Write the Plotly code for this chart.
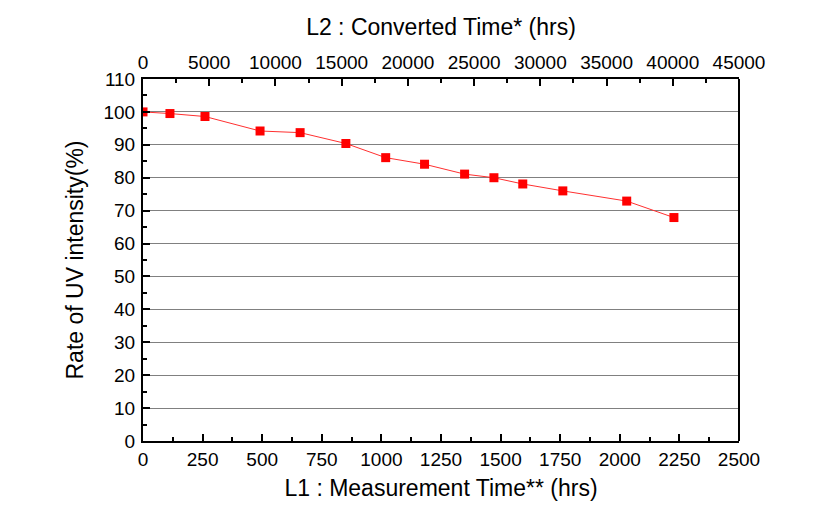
import plotly.graph_objects as go

measurement_time = [0, 113, 260, 491, 659, 851, 1018, 1181, 1349, 1472, 1593, 1761, 2029, 2227]
uv_rate = [100.0, 99.5, 98.6, 94.2, 93.7, 90.4, 86.1, 84.1, 81.1, 80.0, 78.1, 76.0, 72.9, 67.9]

bottom_ticks = [0, 250, 500, 750, 1000, 1250, 1500, 1750, 2000, 2250, 2500]
top_ticks = [0, 5000, 10000, 15000, 20000, 25000, 30000, 35000, 40000, 45000]
top_labels = [str(v) for v in top_ticks]
y_ticks = [0, 10, 20, 30, 40, 50, 60, 70, 80, 90, 100, 110]

FONT = "Liberation Sans, Arial, sans-serif"

fig = go.Figure()
fig.add_trace(go.Scatter(
    x=measurement_time, y=uv_rate, mode="lines+markers",
    line=dict(color="#ff3030", width=1),
    marker=dict(symbol="square", size=9, color="#ff0000"),
    showlegend=False, xaxis="x", yaxis="y",
))
# invisible trace for top axis
fig.add_trace(go.Scatter(
    x=[top_ticks[0], top_ticks[-1]], y=[None, None], mode="markers",
    showlegend=False, xaxis="x2", yaxis="y", hoverinfo="skip",
))

axis_common = dict(
    showline=True, linecolor="black", linewidth=2, mirror=False,
    ticks="inside", ticklen=7, tickwidth=2, tickcolor="black",
    tickfont=dict(family=FONT, size=19, color="black"),
    zeroline=False, automargin=False,
)

fig.update_layout(
    width=831, height=521,
    margin=dict(l=135, r=100, t=71, b=88),
    paper_bgcolor="white", plot_bgcolor="white",
    font=dict(family=FONT, color="black"),
    xaxis=dict(
        range=[0, 2500], tickvals=bottom_ticks, ticktext=[str(v) for v in bottom_ticks], showgrid=False,
        minor=dict(ticks="inside", ticklen=4, tickwidth=2, tickcolor="black", dtick=125, tick0=0),
        title=dict(text="L1 : Measurement Time** (hrs)", font=dict(size=23, family=FONT), standoff=11),
        **axis_common,
    ),
    xaxis2=dict(
        range=[0, 45000], tickvals=top_ticks, ticktext=top_labels, overlaying="x", side="top", showgrid=False,
        minor=dict(ticks="inside", ticklen=4, tickwidth=2, tickcolor="black", dtick=2500, tick0=0),
        title=dict(text="L2 : Converted Time* (hrs)", font=dict(size=23, family=FONT), standoff=10),
        **axis_common,
    ),
    yaxis=dict(
        range=[0, 110], tickvals=y_ticks, showgrid=True, gridcolor="#808080", gridwidth=1.2,
        minor=dict(ticks="inside", ticklen=4, tickwidth=2, tickcolor="black", dtick=5, tick0=0, showgrid=False),
        title=dict(text="Rate of UV intensity(%)", font=dict(size=23, family=FONT), standoff=13),
        ticklabelstandoff=2,
        **axis_common,
    ),
    shapes=[
        dict(type="line", xref="paper", yref="paper", x0=1, x1=1, y0=0, y1=1,
             line=dict(color="black", width=2)),
    ],
)

fig.write_html("out.html")
